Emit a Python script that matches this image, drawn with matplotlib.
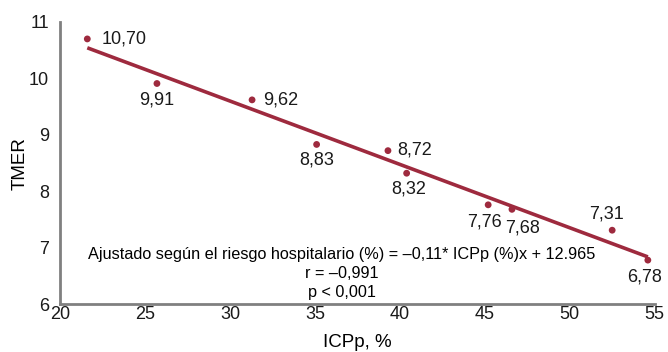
import matplotlib
matplotlib.use("Agg")
import matplotlib.pyplot as plt
import numpy as np

plt.rcParams['font.family'] = ['Liberation Sans', 'DejaVu Sans']

icpp = [21.6, 25.7, 31.3, 35.1, 39.3, 40.4, 45.2, 46.6, 52.5, 54.6]
tmer = [10.70, 9.91, 9.62, 8.83, 8.72, 8.32, 7.76, 7.68, 7.31, 6.78]
point_labels = ["10,70", "9,91", "9,62", "8,83", "8,72", "8,32", "7,76", "7,68", "7,31", "6,78"]
x_ticks = [20, 25, 30, 35, 40, 45, 50, 55]
y_ticks = [6, 7, 8, 9, 10, 11]
annotation_lines = ["Ajustado según el riesgo hospitalario (%) = \u20130,11* ICPp (%)x + 12.965",
                    "r = \u20130,991",
                    "p < 0,001"]

# label offsets in pixels (dx, dy) and alignment
label_pos = [(14, 0, 'left', 'center'), (0, -16, 'center', 'center'), (11, 0, 'left', 'center'),
             (0, -16, 'center', 'center'), (9, 1, 'left', 'center'), (2, -16, 'center', 'center'),
             (-4, -17, 'center', 'center'), (11, -19, 'center', 'center'), (-6, 16, 'center', 'center'),
             (-3, -17, 'center', 'center')]

color = '#9E2A3E'

fig = plt.figure(figsize=(6.68, 3.52), dpi=100)
ax = fig.add_axes([0.09, 0.136, 0.89, 0.8015])

xs = np.array(icpp)
ys = np.array(tmer)
slope, intercept = np.polyfit(xs, ys, 1)
lx = np.array([xs.min(), xs.max()])
ax.plot(lx, slope * lx + intercept, color=color, lw=2.6, zorder=2, solid_capstyle='butt')
ax.scatter(xs, ys, s=24, color=color, zorder=3, edgecolors='none')

for x, y, lab, (dx, dy, ha, va) in zip(icpp, tmer, point_labels, label_pos):
    ax.annotate(lab, (x, y), xytext=(dx, dy), textcoords='offset pixels',
                ha=ha, va=va, fontsize=13, color='#1a1a1a')

ax.text(0.474, 0.175, annotation_lines[0], transform=ax.transAxes, ha='center', va='center', fontsize=11.7)
ax.text(0.474, 0.11, annotation_lines[1], transform=ax.transAxes, ha='center', va='center', fontsize=11.7)
ax.text(0.474, 0.042, annotation_lines[2], transform=ax.transAxes, ha='center', va='center', fontsize=11.7)

ax.set_xlim(20, 55)
ax.set_ylim(6, 11)
ax.set_xticks(x_ticks)
ax.set_yticks(y_ticks)
ax.tick_params(axis='both', length=0, labelsize=13, colors='#1a1a1a')
ax.tick_params(axis='x', pad=1)
ax.tick_params(axis='y', pad=8)
for s in ['top', 'right']:
    ax.spines[s].set_visible(False)
for s in ['left', 'bottom']:
    ax.spines[s].set_color('#808080')
    ax.spines[s].set_linewidth(2)
ax.set_ylabel('TMER', fontsize=13.5, labelpad=0)
ax.set_xlabel('ICPp, %', fontsize=13.5, labelpad=8)

fig.savefig('out.png', dpi=100)
